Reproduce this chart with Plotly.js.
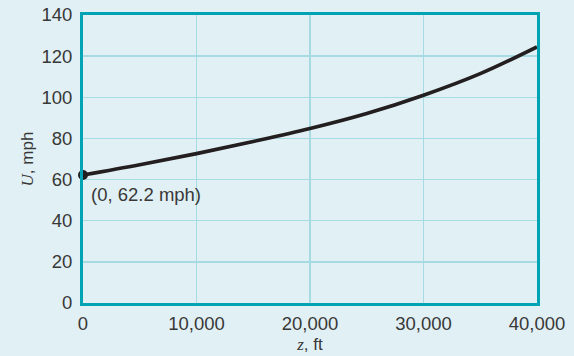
<!DOCTYPE html>
<html>
<head>
<meta charset="utf-8">
<script src="https://cdn.plot.ly/plotly-3.0.1.min.js"></script>
<style>html,body{margin:0;padding:0;background:#e1f0f4;}#chart{width:574px;height:356px;}</style>
</head>
<body>
<div id="chart"></div>
<script>
const altitude = [0, 5000, 10000, 15000, 20000, 25000, 30000, 35000, 40000];
const speed = [62.2, 67.2, 72.6, 78.5, 84.8, 92.1, 101.0, 111.5, 124.5];
const pointX = [0];
const pointY = [62.2];
const pointLabel = "(0, 62.2 mph)";
const xTicks = [0, 10000, 20000, 30000, 40000];
const xTickText = ["0", "10,000", "20,000", "30,000", "40,000"];
const yTicks = [0, 20, 40, 60, 80, 100, 120, 140];

const axisColor = '#00a3b4';
const gridColor = '#a6dbe4';
const textColor = '#383838';

const traces = [
  {x: altitude, y: speed, mode: 'lines', line: {color: '#231f20', width: 3.7, shape: 'spline', smoothing: 1}, hoverinfo: 'skip'},
  {x: pointX, y: pointY, mode: 'markers', marker: {color: '#231f20', size: 10}, cliponaxis: false, hoverinfo: 'skip'}
];

const layout = {
  width: 574, height: 356,
  margin: {l: 83, r: 37, t: 15, b: 53},
  paper_bgcolor: '#e1f0f4', plot_bgcolor: '#e1f0f4',
  showlegend: false,
  font: {family: 'Liberation Sans, Arial, sans-serif', color: textColor, size: 18},
  xaxis: {
    range: [0, 40000], tickvals: xTicks, ticktext: xTickText,
    showline: true, mirror: true, linecolor: axisColor, linewidth: 3,
    showgrid: true, gridcolor: gridColor, gridwidth: 1.5, zeroline: false,
    ticks: 'outside', ticklen: 2, tickcolor: 'rgba(0,0,0,0)',
    tickfont: {size: 18.5, color: textColor},
    title: {text: "<span style='font-family:Liberation Serif;font-style:italic'>z</span>, ft", font: {size: 17, color: textColor}, standoff: 5}
  },
  yaxis: {
    range: [0, 140], tickvals: yTicks,
    showline: true, mirror: true, linecolor: axisColor, linewidth: 3,
    showgrid: true, gridcolor: gridColor, gridwidth: 1.5, zeroline: false,
    ticks: 'outside', ticklen: 4, tickcolor: 'rgba(0,0,0,0)',
    tickfont: {size: 18.5, color: textColor},
    title: {text: "<span style='font-family:Liberation Serif;font-style:italic'>U</span>, mph", font: {size: 17, color: textColor}, standoff: 4}
  },
  annotations: [{
    x: pointX[0], y: pointY[0], xref: 'x', yref: 'y', text: pointLabel, showarrow: false,
    xanchor: 'left', yanchor: 'top', xshift: 6, yshift: -7,
    font: {size: 18.5, color: textColor}
  }]
};

Plotly.newPlot('chart', traces, layout, {staticPlot: true, displayModeBar: false});
</script>
</body>
</html>
